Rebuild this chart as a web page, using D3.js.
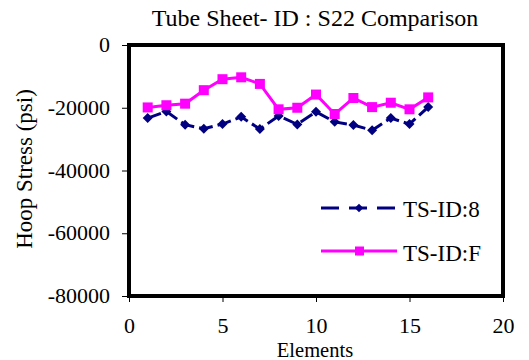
<!DOCTYPE html>
<html><head><meta charset="utf-8">
<script src="https://cdn.jsdelivr.net/npm/d3@7"></script>
<style>body{margin:0;background:#fff}svg text{font-family:"Liberation Serif","Times New Roman",serif !important;fill:#000}</style>
</head><body><svg id="c" width="529" height="360"></svg>
<script>
const elements = [1,2,3,4,5,6,7,8,9,10,11,12,13,14,15,16];
const tsId8 = [-23300,-21200,-25400,-26700,-25200,-22900,-26800,-22600,-25300,-21300,-24500,-25500,-27200,-23300,-25200,-19800];
const tsIdF = [-19900,-19200,-18700,-14400,-10900,-10300,-12400,-20500,-20000,-15800,-22000,-16900,-19800,-18400,-20500,-16700];
const xTicks = [0,5,10,15,20];
const yTicks = [0,-20000,-40000,-60000,-80000];
const seriesNames = ["TS-ID:8","TS-ID:F"];

const svg = d3.select("#c");
const L=129, R=503, T=45, B=296;
const x = d3.scaleLinear().domain([0,20]).range([L,R]);
const y = d3.scaleLinear().domain([-80000,0]).range([B,T]);
const serif = '"Liberation Serif","Times New Roman",serif';

svg.append("text").attr("x",315).attr("y",26).attr("text-anchor","middle").style("font-family",serif).style("font-size","24px").text("Tube Sheet- ID : S22 Comparison");

const ya = svg.append("g").attr("transform",`translate(${L},0)`).call(d3.axisLeft(y).tickValues(yTicks).tickSize(7).tickPadding(12).tickFormat(d=>String(d)));
ya.select(".domain").remove();
ya.selectAll("text").style("font-size","22px").style("font-family",serif).attr("dy","0.3em");
ya.selectAll("line").attr("stroke","#000");
const xa = svg.append("g").attr("transform",`translate(0,${B})`).call(d3.axisBottom(x).tickValues(xTicks).tickSize(6).tickPadding(15));
xa.select(".domain").remove();
xa.selectAll("text").style("font-size","22px").style("font-family",serif);
xa.selectAll("line").attr("stroke","#000");

svg.append("rect").attr("x",L).attr("y",T).attr("width",R-L).attr("height",B-T).attr("fill","none").attr("stroke","#000").attr("stroke-width",4);

svg.append("text").attr("x",315).attr("y",356.5).attr("text-anchor","middle").style("font-family",serif).style("font-size","20.5px").text("Elements");
svg.append("text").attr("transform","translate(32,169) rotate(-90)").attr("text-anchor","middle").style("font-family",serif).style("font-size","23px").text("Hoop Stress (psi)");

const line = d3.line().x((d,i)=>x(elements[i])).y(d=>y(d));
svg.append("path").datum(tsId8).attr("d",line).attr("fill","none").attr("stroke","#000080").attr("stroke-width",3).attr("stroke-dasharray","14,5");
svg.append("path").datum(tsIdF).attr("d",line).attr("fill","none").attr("stroke","#FF00FF").attr("stroke-width",3);

const diamond = d3.symbol().type(d3.symbolSquare).size(50);
svg.append("g").selectAll("path").data(tsId8).join("path")
  .attr("d",diamond()).attr("fill","#000080")
  .attr("transform",(d,i)=>`translate(${x(elements[i])},${y(d)}) rotate(45)`);
svg.append("g").selectAll("rect").data(tsIdF).join("rect")
  .attr("x",(d,i)=>x(elements[i])-5).attr("y",d=>y(d)-5).attr("width",10).attr("height",10).attr("fill","#FF00FF");

// legend
const lg = svg.append("g");
lg.append("line").attr("x1",321).attr("x2",397).attr("y1",208).attr("y2",208).attr("stroke","#000080").attr("stroke-width",3).attr("stroke-dasharray","18,10");
lg.append("path").attr("d",d3.symbol().type(d3.symbolSquare).size(36)()).attr("fill","#000080").attr("transform","translate(359,208) rotate(45)");
lg.append("line").attr("x1",321).attr("x2",397).attr("y1",251).attr("y2",251).attr("stroke","#FF00FF").attr("stroke-width",3);
lg.append("rect").attr("x",355).attr("y",246.5).attr("width",9).attr("height",9).attr("fill","#FF00FF");
lg.append("text").attr("x",403).attr("y",217).style("font-family",serif).style("font-size","23px").text(seriesNames[0]);
lg.append("text").attr("x",403).attr("y",261).style("font-family",serif).style("font-size","23px").text(seriesNames[1]);
</script></body></html>
